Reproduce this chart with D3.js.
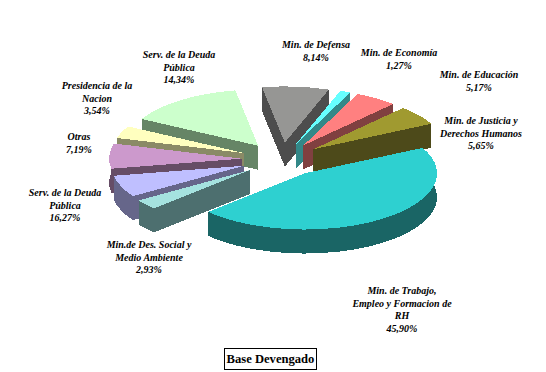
<!DOCTYPE html>
<html lang="es">
<head>
<meta charset="utf-8">
<title>Base Devengado</title>
<script src="https://cdnjs.cloudflare.com/ajax/libs/d3/7.8.5/d3.min.js"></script>
<style>
  body { margin: 0; background: #fff; }
  svg { display: block; }
  text { font-family: "Liberation Serif", serif; fill: #000; }
  .lbl { font-size: 10px; font-weight: bold; font-style: italic; text-anchor: middle; }
  .ttl { font-size: 12.6px; font-weight: bold; text-anchor: middle; }
</style>
</head>
<body>
<script>
// clockwise, starting from the big slice
var sliceNames = ["Trabajo", "Social", "Deuda2", "Otras", "Presidencia", "Deuda1", "Defensa", "Economia", "Educacion", "Justicia"];
// slice sizes (the lilac one is drawn as 6,27 though its label says 16,27)
var sliceValues = [45.4, 2.93, 6.27, 7.19, 3.54, 14.34, 8.14, 1.27, 5.17, 5.65];
var topColors = ["#2ed0d0", "#a5e2df", "#bfbfff", "#cc99cc", "#ffffbf", "#ccffcc", "#969694", "#66ffff", "#ff8080", "#a09a30"];
var sideColors = ["#1a6565", "#4d6f6f", "#66668a", "#664d66", "#8a8a66", "#668566", "#4d4d4d", "#338888", "#804040", "#4d4a1a"];

var labelLines = [
  ["Min. de Trabajo,", "Empleo y Formacion de", "RH", "45,90%"],
  ["Min.de Des. Social y", "Medio Ambiente", "2,93%"],
  ["Serv. de la Deuda", "Pública", "16,27%"],
  ["Otras", "7,19%"],
  ["Presidencia de la", "Nacion", "3,54%"],
  ["Serv. de la Deuda", "Pública", "14,34%"],
  ["Min. de Defensa", "8,14%"],
  ["Min. de Economía", "1,27%"],
  ["Min. de Educación", "5,17%"],
  ["Min. de Justicia y", "Derechos Humanos", "5,65%"]
];
var labelX = [402, 149, 65, 79, 97, 179, 316, 399, 479, 481];
var labelY = [294, 248, 196, 140, 89, 58, 48, 56, 78, 124];
var lineStep = 12.7;

var width = 546, height = 372;
var cx = 281.5, cy = 159.5;
var radius = 132.5, squash = 0.424, depth = 24, explode = 40;
var startDeg = 63;

var svg = d3.select("body").append("svg").attr("width", width).attr("height", height);

var pie = d3.pie().sort(null).value(function (d) { return d; })
  .startAngle(startDeg * Math.PI / 180)
  .endAngle((startDeg + 360) * Math.PI / 180);
var arcs = pie(sliceValues);
var arc = d3.arc().innerRadius(0).outerRadius(radius);

var drop = depth / squash; // depth in unsquashed space

// back slices first
var order = arcs.slice().sort(function (a, b) {
  return Math.cos((b.startAngle + b.endAngle) / 2) - Math.cos((a.startAngle + a.endAngle) / 2);
});

var slices = svg.append("g")
  .attr("transform", "translate(" + cx + "," + cy + ") scale(1," + squash + ")")
  .attr("shape-rendering", "crispEdges")
  .selectAll("g").data(order).enter().append("g")
  .attr("transform", function (d) {
    var m = (d.startAngle + d.endAngle) / 2;
    return "translate(" + (explode * Math.sin(m)) + "," + (-explode * Math.cos(m)) + ")";
  });

function rimPath(d) {
  var p = d3.path(), a0 = d.startAngle - Math.PI / 2, a1 = d.endAngle - Math.PI / 2;
  p.arc(0, 0, radius, a0, a1);
  p.lineTo(radius * Math.cos(a1), radius * Math.sin(a1) + drop);
  p.arc(0, drop, radius, a1, a0, true);
  p.closePath();
  return p.toString();
}
function cutPath(a) {
  var p = d3.path(), t = a - Math.PI / 2;
  p.moveTo(0, 0);
  p.lineTo(radius * Math.cos(t), radius * Math.sin(t));
  p.lineTo(radius * Math.cos(t), radius * Math.sin(t) + drop);
  p.lineTo(0, drop);
  p.closePath();
  return p.toString();
}

// sides: bottom face, both cut walls and the rim, all one dark colour
slices.each(function (d) {
  var g = d3.select(this), c = sideColors[d.index];
  g.append("path").attr("d", arc(d)).attr("transform", "translate(0," + drop + ")").attr("fill", c);
  g.append("path").attr("d", cutPath(d.startAngle)).attr("fill", c);
  g.append("path").attr("d", cutPath(d.endAngle)).attr("fill", c);
  g.append("path").attr("d", rimPath(d)).attr("fill", c);
});

slices.append("path")
  .attr("class", function (d) { return "top " + sliceNames[d.index]; })
  .attr("d", arc)
  .attr("fill", function (d) { return topColors[d.index]; });

// labels
labelLines.forEach(function (lines, i) {
  var t = svg.append("text").attr("class", "lbl");
  lines.forEach(function (s, j) {
    t.append("tspan").attr("x", labelX[i]).attr("y", labelY[i] + j * lineStep).text(s);
  });
});

// title box
svg.append("rect").attr("x", 224.5).attr("y", 348.5).attr("width", 92).attr("height", 21)
  .attr("fill", "#fff").attr("stroke", "#000");
svg.append("text").attr("class", "ttl").attr("x", 270.5).attr("y", 363).text("Base Devengado");
</script>
</body>
</html>
